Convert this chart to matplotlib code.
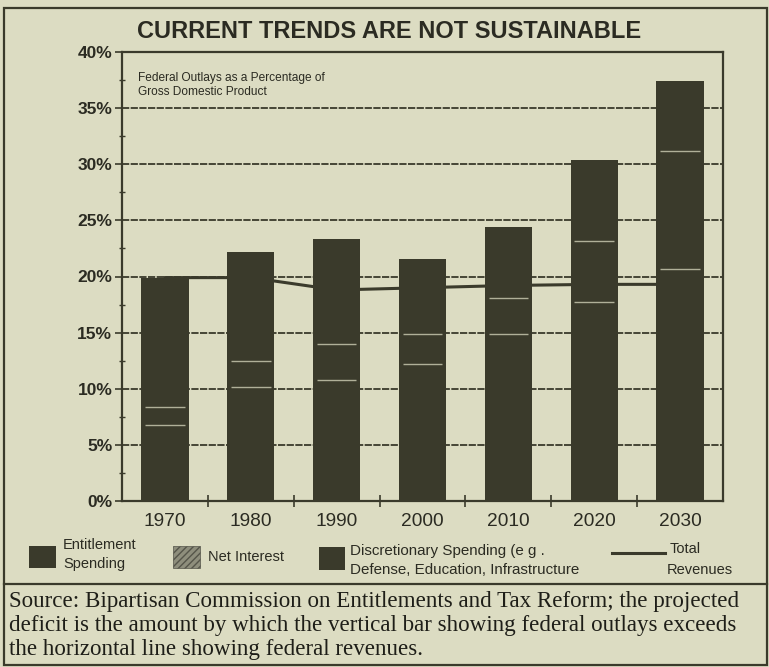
import matplotlib
matplotlib.use("Agg")
import matplotlib.pyplot as plt
from matplotlib.patches import Rectangle
from matplotlib.lines import Line2D
import numpy as np

years = ["1970", "1980", "1990", "2000", "2010", "2020", "2030"]
entitlement = [6.8, 10.2, 10.8, 12.2, 14.9, 17.7, 20.7]
net_interest = [1.6, 2.3, 3.2, 2.7, 3.2, 5.5, 10.5]
discretionary = [11.5, 9.7, 9.3, 6.7, 6.3, 7.2, 6.2]
revenues = [19.9, 19.9, 18.8, 19.0, 19.2, 19.3, 19.3]
y_ticks = [0, 5, 10, 15, 20, 25, 30, 35, 40]
y_tick_labels = ["0%", "5%", "10%", "15%", "20%", "25%", "30%", "35%", "40%"]

BG = "#dcdcc2"
DARK = "#3a3a2b"
TXT = "#2b2b22"
SEP = "#cfcfb5"

W, H = 769, 667
fig = plt.figure(figsize=(W / 100, H / 100), dpi=100, facecolor=BG)

def fx(px):
    return px / W

def fy(py):
    return 1 - py / H

ax = fig.add_axes([fx(122), fy(501), fx(723) - fx(122), fy(52) - fy(501)])
ax.set_facecolor(BG)

x = np.arange(len(years))
ent = np.array(entitlement)
ni = np.array(net_interest)
dis = np.array(discretionary)
bw = 0.55

# gridlines
for t in y_ticks[1:-1]:
    ax.axhline(t, color=DARK, lw=1.3, ls=(0, (4, 0.8)), zorder=1)

ax.plot(x, revenues, color=DARK, lw=2.2, zorder=2)

ax.bar(x, ent, bw, color=DARK, zorder=3, linewidth=0)
ax.bar(x, ni, bw, bottom=ent, color=DARK, zorder=3, linewidth=0)
ax.bar(x, dis, bw, bottom=ent + ni, color=DARK, zorder=3, linewidth=0)
# faint segment separators
ax.hlines(ent, x - bw * 0.42, x + bw * 0.42, color=SEP, lw=1.0, zorder=4, alpha=0.8)
ax.hlines(ent + ni, x - bw * 0.42, x + bw * 0.42, color=SEP, lw=1.0, zorder=4, alpha=0.8)

ax.set_xlim(-0.5, len(years) - 0.5)
ax.set_ylim(0, 40)
ax.set_yticks(y_ticks)
ax.set_yticklabels(y_tick_labels, fontsize=12.5, fontweight="bold", color=TXT,
                   family="Liberation Sans")
ax.set_yticks(np.arange(2.5, 40, 5), minor=True)
ax.tick_params(axis="y", which="major", direction="out", length=5, width=1.2, color=DARK, pad=2)
ax.tick_params(axis="y", which="minor", direction="inout", length=5, width=1.0, color=DARK)

ax.set_xticks(x)
ax.set_xticklabels(years, fontsize=13.8, color=TXT, family="Liberation Sans")
ax.set_xticks(np.arange(0.5, len(years) - 0.5, 1), minor=True)
ax.tick_params(axis="x", which="major", length=0, pad=9)
ax.tick_params(axis="x", which="minor", direction="inout", length=9, width=1.2, color=DARK)

for s in ax.spines.values():
    s.set_color(DARK)
    s.set_linewidth(1.6)

ax.text(0.027, 0.955, "Federal Outlays as a Percentage of\nGross Domestic Product",
        transform=ax.transAxes, ha="left", va="top", fontsize=8.6, color=TXT,
        family="Liberation Sans", linespacing=1.15)

fig.text(fx(389), fy(32), "CURRENT TRENDS ARE NOT SUSTAINABLE", ha="center", va="center",
         fontsize=17, fontweight="bold", color=TXT, family="Liberation Sans")

# legend (manual layout)
lf = dict(fontsize=10.5, color=TXT, family="Liberation Sans", va="center")
fig.add_artist(Rectangle((fx(29), fy(568)), fx(27), fy(546) - fy(568),
                         transform=fig.transFigure, facecolor=DARK, edgecolor="none"))
fig.text(fx(63), fy(545), "Entitlement", **lf)
fig.text(fx(63), fy(564), "Spending", **lf)
fig.add_artist(Rectangle((fx(173), fy(568)), fx(27), fy(546) - fy(568),
                         transform=fig.transFigure, facecolor="#8e8e7c", edgecolor="#55554a",
                         hatch="/////", linewidth=0.5))
fig.text(fx(208), fy(557), "Net Interest", **lf)
fig.add_artist(Rectangle((fx(319), fy(570)), fx(26), fy(547) - fy(570),
                         transform=fig.transFigure, facecolor=DARK, edgecolor="none"))
fig.text(fx(350), fy(551), "Discretionary Spending (e g .", **dict(lf, fontsize=10.9))
fig.text(fx(350), fy(570), "Defense, Education, Infrastructure", **dict(lf, fontsize=10.9))
fig.add_artist(Line2D([fx(612), fx(665)], [fy(553), fy(553)], transform=fig.transFigure,
                      color=DARK, lw=2.2))
fig.text(fx(670), fy(549), "Total", **lf)
fig.text(fx(667), fy(570), "Revenues", **lf)

# frame
fig.add_artist(Rectangle((fx(4), fy(665)), fx(763), fy(8) - fy(665), transform=fig.transFigure,
                         facecolor="none", edgecolor=DARK, lw=1.6))
fig.add_artist(Line2D([fx(4), fx(767)], [fy(584), fy(584)], transform=fig.transFigure,
                      color=DARK, lw=1.6))

sf = dict(fontsize=16.6, color="#1e1e18", family="Liberation Serif", ha="left", va="center")
fig.text(fx(9), fy(602), "Source: Bipartisan Commission on Entitlements and Tax Reform; the projected", **sf)
fig.text(fx(9), fy(626), "deficit is the amount by which the vertical bar showing federal outlays exceeds", **sf)
fig.text(fx(9), fy(650), "the horizontal line showing federal revenues.", **sf)

fig.savefig("out.png", dpi=100, facecolor=BG)
